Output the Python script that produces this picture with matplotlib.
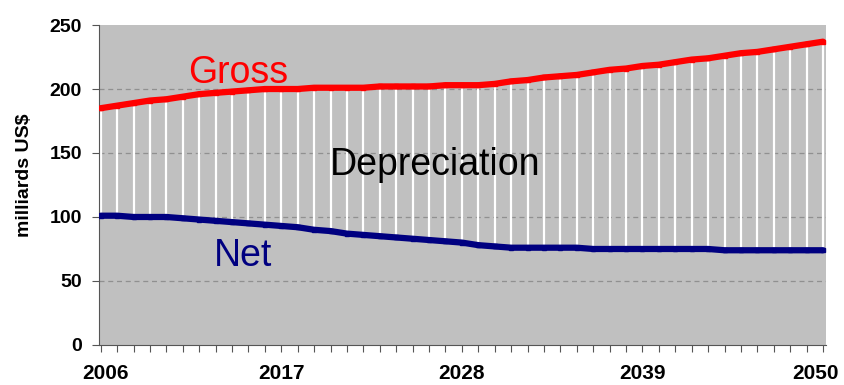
import numpy as np
import matplotlib.pyplot as plt
import matplotlib.transforms as mtransforms

plt.rcParams['font.family'] = ['Liberation Sans', 'DejaVu Sans']

# data (milliards US$)
years = list(range(2006, 2051))
gross = [185, 187, 189, 191, 192, 194, 196, 197, 198, 199,
         200, 200, 200, 201, 201, 201, 201, 202, 202, 202,
         202, 203, 203, 203, 204, 206, 207, 209, 210, 211,
         213, 215, 216, 218, 219, 221, 223, 224, 226, 228,
         229, 231, 233, 235, 237]
net = [101, 101, 100, 100, 100, 99, 98, 97, 96, 95,
       94, 93, 92, 90, 89, 87, 86, 85, 84, 83,
       82, 81, 80, 78, 77, 76, 76, 76, 76, 76,
       75, 75, 75, 75, 75, 75, 75, 75, 74, 74,
       74, 74, 74, 74, 74]
label_years = [2006, 2017, 2028, 2039, 2050]

fig = plt.figure(figsize=(8.44, 3.85), dpi=100)
ax = fig.add_axes([0.117, 0.104, 0.862, 0.831])
ax.set_facecolor('#c0c0c0')

# white depreciation bars between net and gross
ax.vlines(years, net, gross, colors='white', linewidth=1.6, zorder=2)

ax.plot(years, gross, color='#ff0000', linewidth=4.5, marker='s',
        markersize=3, zorder=3, solid_capstyle='round')
ax.plot(years, net, color='#000080', linewidth=4.5, marker='s',
        markersize=3, zorder=3, solid_capstyle='round')

ax.set_ylim(0, 250)
ax.set_xlim(2005.88, 2050.2)
ax.set_yticks([0, 50, 100, 150, 200, 250])
ax.set_xticks(years)
ax.set_xticklabels([str(y) if y in label_years else '' for y in years])
for y in [50, 100, 150, 200]:
    ax.axhline(y, color='#909090', linestyle=(0, (4, 3)), linewidth=0.9, zorder=1)

for s in ['top', 'right']:
    ax.spines[s].set_visible(False)
for s in ['left', 'bottom']:
    ax.spines[s].set_color('#555555')
ax.tick_params(axis='y', labelsize=14, length=5, color='#555555', pad=7)
ax.tick_params(axis='x', labelsize=15, length=5, color='#555555', pad=9)
for lbl in ax.get_xticklabels() + ax.get_yticklabels():
    lbl.set_fontweight('bold')

# nudge the end labels inward like the original
xlabels = ax.get_xticklabels()
xlabels[0].set_transform(xlabels[0].get_transform() +
                         mtransforms.ScaledTranslation(5 / 100, 0, fig.dpi_scale_trans))
xlabels[-1].set_transform(xlabels[-1].get_transform() +
                          mtransforms.ScaledTranslation(-7 / 100, 0, fig.dpi_scale_trans))

ax.set_ylabel('milliards US$', fontsize=14, fontweight='bold')
ax.yaxis.set_label_coords(-0.091, 0.53)

ax.text(2014.4, 212.5, 'Gross', color='#ff0000', fontsize=27, ha='center', va='center')
ax.text(2026.4, 140.6, 'Depreciation', color='black', fontsize=27, ha='center', va='center')
ax.text(2014.7, 69.5, 'Net', color='#000080', fontsize=27, ha='center', va='center')

fig.savefig('out.png', dpi=100)
